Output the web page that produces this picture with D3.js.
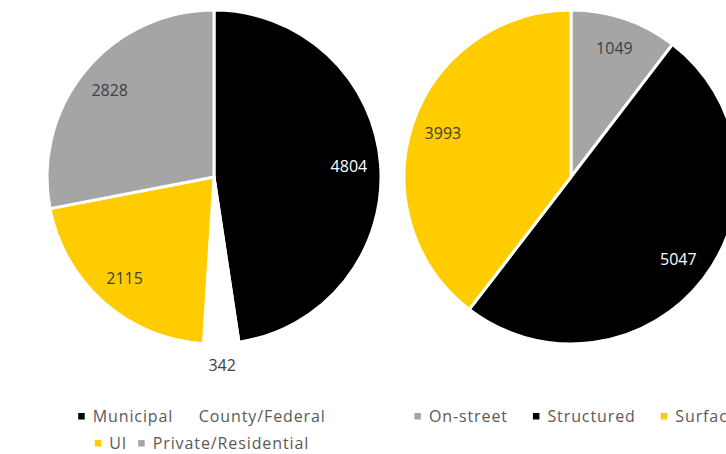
<!DOCTYPE html>
<html>
<head>
<meta charset="utf-8">
<script src="https://cdn.jsdelivr.net/npm/d3@7"></script>
<style>
  html, body { margin: 0; padding: 0; background: #fff; overflow: hidden; }
  svg { display: block; }
</style>
</head>
<body>
<svg id="chart" width="726" height="454"></svg>
<script>
// Parking spaces by ownership
const ownerCategories = ["Municipal", "County/Federal", "UI", "Private/Residential"];
const ownerValues = [4804, 342, 2115, 2828];
const ownerColors = ["#000000", "#FFFFFF", "#FFCC00", "#A5A5A5"];

// Parking spaces by facility type
const typeCategories = ["On-street", "Structured", "Surface"];
const typeValues = [1049, 5047, 3993];
const typeColors = ["#A5A5A5", "#000000", "#FFCC00"];

const svg = d3.select("#chart");
const R = 167;

function drawPie(cx, cy, cats, vals, colors, legendRows, legendCx, itemGap) {
  const g = svg.append("g").attr("transform", `translate(${cx},${cy})`);
  const data = cats.map((c, i) => ({ cat: c, value: vals[i], color: colors[i] }));
  const pie = d3.pie().value(d => d.value).sort(null);
  const arcs = pie(data);
  const arc = d3.arc().innerRadius(0).outerRadius(R);
  const labelArc = d3.arc().innerRadius(R * 0.81).outerRadius(R * 0.81);
  const outerArc = d3.arc().innerRadius(R * 1.13).outerRadius(R * 1.13);

  g.selectAll("path.slice").data(arcs).join("path")
    .attr("class", "slice")
    .attr("d", arc)
    .attr("fill", d => d.data.color)
    .attr("stroke", "#fff")
    .attr("stroke-width", 3)
    .attr("stroke-linejoin", "round");

  // Value labels: inside the slice, or just outside for very thin slices
  g.selectAll("text.val").data(arcs).join("text")
    .attr("class", "val")
    .attr("transform", d => {
      const small = (d.endAngle - d.startAngle) < 0.3;
      const p = (small ? outerArc : labelArc).centroid(d);
      return `translate(${p[0]},${p[1]})`;
    })
    .attr("text-anchor", "middle")
    .attr("dy", "0.35em")
    .attr("font-family", "'Open Sans', sans-serif")
    .attr("font-size", 16)
    .attr("fill", d => d.data.color === "#000000" ? "#FFFFFF" : "#404040")
    .text(d => d.data.value);

  // Legend rows, each centred on legendCx
  const rowY = [416, 443];
  legendRows.forEach((row, ri) => {
    const lg = svg.append("g");
    let x = 0;
    row.forEach((idx, k) => {
      const item = lg.append("g").attr("transform", `translate(${x},0)`);
      item.append("rect")
        .attr("x", 0).attr("y", -3).attr("width", 6.5).attr("height", 6.5)
        .attr("fill", colors[idx]);
      const t = item.append("text")
        .attr("x", 14.5)
        .attr("dy", "0.35em")
        .attr("font-family", "'Open Sans', sans-serif")
        .attr("font-size", 16)
        .attr("letter-spacing", 0.9)
        .attr("fill", "#595959")
        .text(cats[idx]);
      const w = t.node().getComputedTextLength();
      x += 14.5 + w + (k < row.length - 1 ? itemGap : 0);
    });
    lg.attr("transform", `translate(${legendCx - x / 2},${rowY[ri]})`);
  });
}

drawPie(214, 177, ownerCategories, ownerValues, ownerColors, [[0, 1], [2, 3]], 202, 11);
drawPie(571, 177, typeCategories, typeValues, typeColors, [[0, 1, 2]], 576, 25);
</script>
</body>
</html>
